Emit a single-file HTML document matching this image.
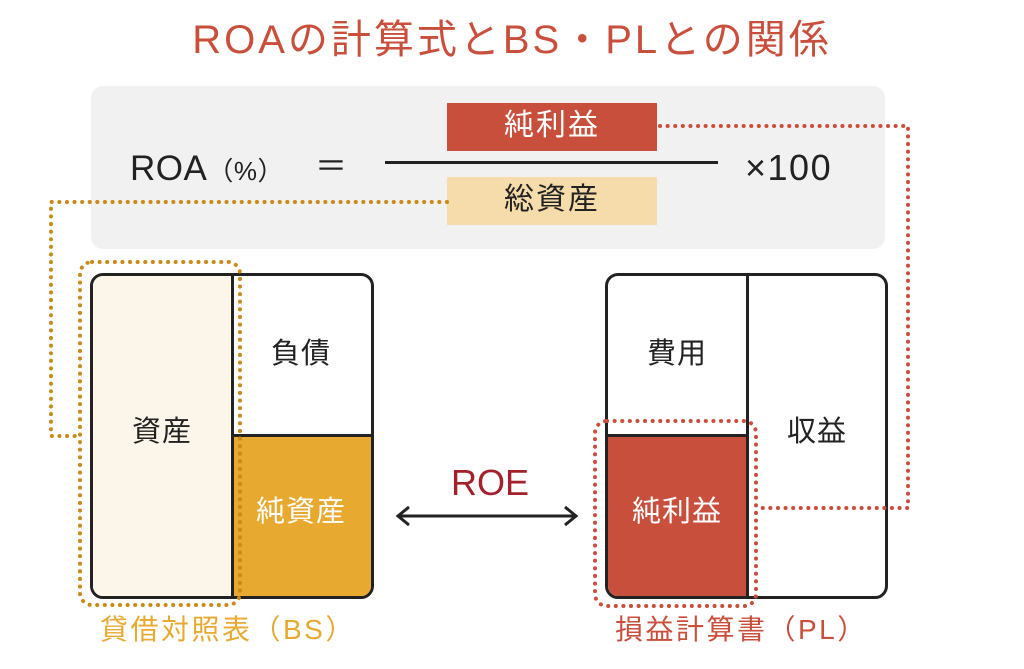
<!DOCTYPE html>
<html><head><meta charset="utf-8"><style>
body{margin:0;width:1024px;height:669px;background:#fff;position:relative;overflow:hidden;font-family:"Liberation Sans","Noto Sans CJK JP",sans-serif;color:#222}
.a{position:absolute}
.t{position:absolute;white-space:nowrap;line-height:1}
</style></head><body>
<div class="t" style="left:0;width:1024px;text-align:center;top:20px;font-size:40px;color:#c94f3d;letter-spacing:3px">ROAの計算式とBS・PLとの関係</div>
<div class="a" style="left:91px;top:86px;width:794px;height:163px;background:#f1f1f1;border-radius:12px"></div>
<div class="t" style="left:130px;top:151px;font-size:35px;letter-spacing:0.5px">ROA<span style="font-size:26px">（%）</span></div>
<div class="t" style="left:315px;top:150px;font-size:32px">＝</div>
<div class="a" style="left:447px;top:103px;width:210px;height:48px;background:#c94f3d"></div>
<div class="t" style="left:447px;width:210px;text-align:center;top:111px;font-size:30px;color:#fff;letter-spacing:2px">純利益</div>
<div class="a" style="left:385px;top:161px;width:333px;height:3px;background:#222"></div>
<div class="a" style="left:447px;top:177px;width:210px;height:48px;background:#f6dcaa"></div>
<div class="t" style="left:447px;width:210px;text-align:center;top:185px;font-size:30px;letter-spacing:2px">総資産</div>
<div class="t" style="left:745px;top:150px;font-size:36px;letter-spacing:1.5px">×100</div>

<!-- BS -->
<div class="a" style="left:90px;top:273px;width:278px;height:320px;border:3px solid #222;border-radius:13px;overflow:hidden;background:#fff">
 <div class="a" style="left:0;top:0;width:138px;height:320px;background:#fcf5ea;border-right:3px solid #222"></div>
 <div class="a" style="left:141px;top:158px;width:137px;height:162px;background:#e8a930;border-top:3px solid #222"></div>
</div>
<div class="t" style="left:93px;width:138px;text-align:center;top:418px;font-size:29px;letter-spacing:1px">資産</div>
<div class="t" style="left:234px;width:134px;text-align:center;top:340px;font-size:29px;letter-spacing:1px">負債</div>
<div class="t" style="left:234px;width:134px;text-align:center;top:498px;font-size:29px;color:#fff;letter-spacing:1px">純資産</div>

<!-- PL -->
<div class="a" style="left:605px;top:273px;width:277px;height:320px;border:3px solid #222;border-radius:13px;overflow:hidden;background:#fff">
 <div class="a" style="left:0;top:0;width:138px;height:320px;border-right:3px solid #222"></div>
 <div class="a" style="left:0;top:158px;width:138px;height:162px;background:#c94f3d;border-top:3px solid #222"></div>
</div>
<div class="t" style="left:608px;width:138px;text-align:center;top:340px;font-size:29px;letter-spacing:1px">費用</div>
<div class="t" style="left:749px;width:136px;text-align:center;top:418px;font-size:29px;letter-spacing:1px">収益</div>
<div class="t" style="left:608px;width:138px;text-align:center;top:498px;font-size:29px;color:#fff;letter-spacing:1px">純利益</div>

<div class="t" style="left:430px;width:120px;text-align:center;top:465px;font-size:36px;color:#a3212a">ROE</div>

<div class="t" style="left:100px;top:616px;font-size:28px;color:#e8a930;letter-spacing:2.5px">貸借対照表（BS）</div>
<div class="t" style="left:615px;top:616px;font-size:28px;color:#c94f3d;letter-spacing:2.5px">損益計算書（PL）</div>

<svg class="a" style="left:0;top:0" width="1024" height="669">
 <g fill="none" stroke-width="4" stroke-dasharray="0.1 7.5" stroke-linecap="round">
  <path d="M660 126 H908 V508 H756" stroke="#c94f3d"/>
  <path d="M447 202 H51 V436 H80" stroke="#c88a18"/>
  <rect x="80" y="262" width="160" height="343" rx="12" stroke="#c88a18"/>
  <rect x="595" y="421" width="161" height="185" rx="12" stroke="#c94f3d"/>
 </g>
 <g stroke="#222" stroke-width="3" fill="none">
  <line x1="399" y1="516" x2="575" y2="516"/>
  <path d="M409 507 L398 516 L409 525"/>
  <path d="M565 507 L576 516 L565 525"/>
 </g>
</svg>
</body></html>
